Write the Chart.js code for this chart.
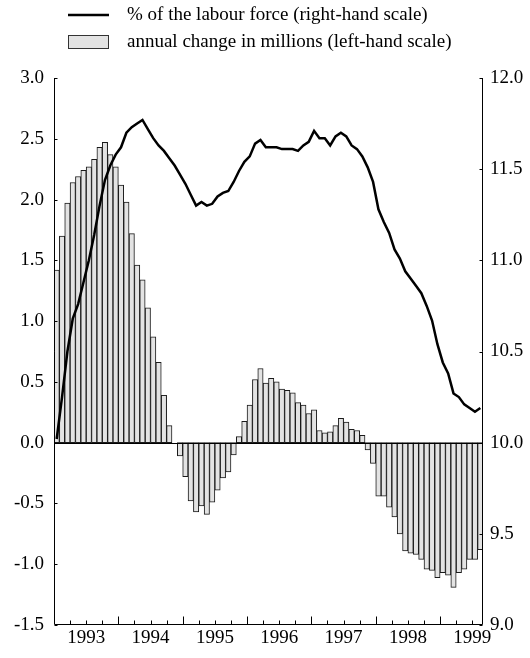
<!DOCTYPE html>
<html>
<head>
<meta charset="utf-8">
<script src="https://cdn.jsdelivr.net/npm/chart.js@4.4.1/dist/chart.umd.min.js"></script>
<style>
  html, body { margin: 0; padding: 0; background: #fff; }
  #wrap { width: 530px; height: 658px; }
</style>
</head>
<body>
<div id="wrap"><canvas id="chart" width="530" height="658"></canvas></div>
<script>
// Monthly series, Jan 1993 .. Aug 1999 (80 months)
const yearLabels = ['1993', '1994', '1995', '1996', '1997', '1998', '1999'];

// annual change in millions (left-hand scale)
const annualChange = [
  1.42, 1.70, 1.97, 2.14, 2.19, 2.24, 2.27, 2.33, 2.43, 2.47, 2.37, 2.27,
  2.12, 1.98, 1.72, 1.46, 1.34, 1.11, 0.87, 0.66, 0.39, 0.14, 0.00, -0.11,
  -0.28, -0.48, -0.57, -0.52, -0.59, -0.49, -0.39, -0.29, -0.24, -0.10, 0.05, 0.175,
  0.31, 0.52, 0.61, 0.49, 0.53, 0.50, 0.44, 0.43, 0.41, 0.33, 0.31, 0.24,
  0.27, 0.10, 0.08, 0.09, 0.14, 0.20, 0.17, 0.11, 0.10, 0.06, -0.06, -0.17,
  -0.44, -0.44, -0.53, -0.61, -0.75, -0.89, -0.91, -0.92, -0.96, -1.04, -1.05, -1.11,
  -1.07, -1.09, -1.19, -1.07, -1.04, -0.96, -0.96, -0.88
];

// % of the labour force (right-hand scale)
const labourPct = [
  10.02, 10.25, 10.50, 10.68, 10.76, 10.88, 11.00, 11.14, 11.30, 11.44, 11.52, 11.58,
  11.62, 11.70, 11.73, 11.75, 11.77, 11.72, 11.67, 11.63, 11.60, 11.56, 11.52, 11.47,
  11.42, 11.36, 11.30, 11.32, 11.30, 11.31, 11.35, 11.37, 11.38, 11.43, 11.49, 11.54,
  11.57, 11.64, 11.66, 11.62, 11.62, 11.62, 11.61, 11.61, 11.61, 11.60, 11.63, 11.65,
  11.71, 11.67, 11.67, 11.63, 11.68, 11.70, 11.68, 11.63, 11.61, 11.57, 11.51, 11.43,
  11.28, 11.21, 11.15, 11.06, 11.01, 10.94, 10.90, 10.86, 10.82, 10.75, 10.67, 10.54,
  10.44, 10.38, 10.27, 10.25, 10.21, 10.19, 10.17, 10.19
];

const FONT = { family: '"Liberation Serif", "Times New Roman", serif', size: 19 };
const INK = '#000';

// bar/line points sit in the middle of each month slot
const barPts  = annualChange.map((v, i) => ({ x: i + 0.5, y: v }));
const linePts = labourPct.map((v, i) => ({ x: i + 0.5, y: v }));

// axis lines, inward tick marks, zero line and the two-row legend
const decor = {
  id: 'decor',
  afterDatasetsDraw(chart) {
    const { ctx, chartArea: a, scales } = chart;
    ctx.save();
    ctx.strokeStyle = INK;
    ctx.lineWidth = 1;
    const L = Math.round(a.left) + 0.5, R = Math.round(a.right) - 0.5, B = Math.round(a.bottom) - 0.5;
    ctx.beginPath();
    ctx.moveTo(L, a.top); ctx.lineTo(L, B); ctx.lineTo(R, B); ctx.lineTo(R, a.top);
    ctx.stroke();
    // zero line across the plot
    const y0 = Math.round(scales.y.getPixelForValue(0)) + 0.5;
    ctx.beginPath(); ctx.moveTo(L, y0); ctx.lineTo(R, y0); ctx.stroke();
    // x ticks: quarterly, longer at year boundaries
    for (let m = 3; m < 80; m += 3) {
      const x = Math.round(scales.x.getPixelForValue(m)) + 0.5;
      const len = m % 12 === 0 ? 8 : 4;
      ctx.beginPath(); ctx.moveTo(x, B); ctx.lineTo(x, B - len); ctx.stroke();
    }
    // y ticks
    scales.y.ticks.forEach(t => {
      const y = Math.round(scales.y.getPixelForValue(t.value)) + 0.5;
      ctx.beginPath(); ctx.moveTo(L, y); ctx.lineTo(L + 3, y); ctx.stroke();
    });
    scales.y1.ticks.forEach(t => {
      const y = Math.round(scales.y1.getPixelForValue(t.value)) + 0.5;
      ctx.beginPath(); ctx.moveTo(R, y); ctx.lineTo(R - 3, y); ctx.stroke();
    });
    ctx.restore();
  },
  afterDraw(chart) {
    const { ctx } = chart;
    ctx.save();
    ctx.font = `${FONT.size}px ${FONT.family}`;
    ctx.fillStyle = INK;
    ctx.textBaseline = 'middle';
    // line sample
    ctx.strokeStyle = INK; ctx.lineWidth = 2.5;
    ctx.beginPath(); ctx.moveTo(68, 15); ctx.lineTo(109, 15); ctx.stroke();
    ctx.fillText('% of the labour force (right-hand scale)', 127, 15);
    // box sample
    ctx.fillStyle = '#e3e3e3';
    ctx.fillRect(68.5, 35.5, 40, 13);
    ctx.strokeStyle = '#333'; ctx.lineWidth = 1;
    ctx.strokeRect(68.5, 35.5, 40, 13);
    ctx.fillStyle = INK;
    ctx.fillText('annual change in millions (left-hand scale)', 127, 42);
    ctx.restore();
  }
};

new Chart(document.getElementById('chart').getContext('2d'), {
  data: {
    datasets: [
      {
        type: 'line',
        data: linePts,
        yAxisID: 'y1',
        borderColor: INK,
        borderWidth: 2.5,
        pointRadius: 0,
        tension: 0,
        fill: false,
        order: 0
      },
      {
        type: 'bar',
        data: barPts,
        yAxisID: 'y',
        backgroundColor: '#e3e3e3',
        borderColor: '#1a1a1a',
        borderWidth: 1,
        borderSkipped: false,
        barPercentage: 1,
        categoryPercentage: 1,
        order: 1
      }
    ]
  },
  options: {
    responsive: false,
    animation: false,
    devicePixelRatio: 1,
    layout: { padding: { top: 78, left: 0, right: 0, bottom: 0 } },
    plugins: { legend: { display: false }, tooltip: { enabled: false } },
    scales: {
      x: {
        type: 'linear',
        offset: false,
        min: 0, max: 80,
        grid: { display: false, drawTicks: false },
        border: { display: false },
        ticks: {
          stepSize: 3,
          includeBounds: false,
          autoSkip: false,
          maxRotation: 0,
          padding: 2,
          color: INK,
          font: FONT,
          callback: v => (v % 12 === 6 ? yearLabels[(v - 6) / 12] : '')
        },
        afterFit: s => { s.height = 33; }
      },
      y: {
        position: 'left',
        min: -1.5, max: 3.0,
        grid: { display: false, drawTicks: false },
        border: { display: false },
        ticks: { stepSize: 0.5, padding: 10, color: INK, font: FONT, callback: v => v.toFixed(1) },
        afterFit: s => { s.width = 54; }
      },
      y1: {
        position: 'right',
        min: 9.0, max: 12.0,
        grid: { display: false, drawTicks: false },
        border: { display: false },
        ticks: { stepSize: 0.5, padding: 7, color: INK, font: FONT, callback: v => v.toFixed(1) },
        afterFit: s => { s.width = 47; }
      }
    }
  },
  plugins: [decor]
});
</script>
</body>
</html>
